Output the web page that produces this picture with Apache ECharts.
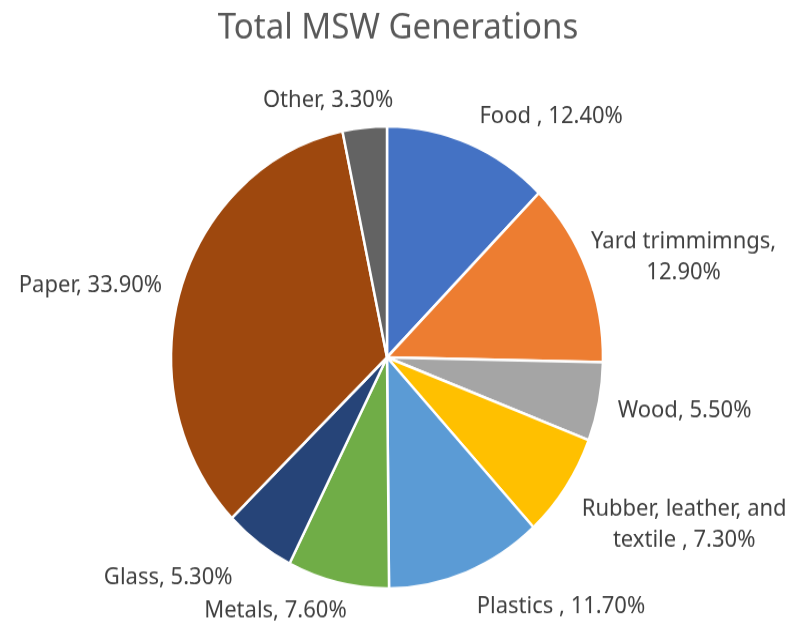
<!DOCTYPE html>
<html>
<head>
<meta charset="utf-8">
<script src="https://cdn.jsdelivr.net/npm/echarts@6/dist/echarts.min.js"></script>
<style>
  html, body { margin: 0; padding: 0; background: #fff; }
  body { width: 796px; height: 628px; overflow: hidden; }
  /* the source picture is stretched a little taller than wide */
  #chart { width: 796px; height: 587px; transform: scaleY(1.07); transform-origin: 0 0; }
</style>
</head>
<body>
<div id="chart"></div>
<script>
  // MSW share by material, clockwise from 12 o'clock
  const categories = ["Food ", "Yard trimmimngs", "Wood", "Rubber, leather, and textile ",
                      "Plastics ", "Metals", "Glass", "Paper", "Other"];
  const shares = [12.4, 12.9, 5.5, 7.3, 11.7, 7.6, 5.3, 33.9, 3.3];
  const colors = ["#4472C4", "#ED7D31", "#A5A5A5", "#FFC000", "#5B9BD5",
                  "#70AD47", "#264478", "#9E480E", "#636363"];

  // labels that Excel wraps onto two lines (centred)
  const wrapped = {
    "Yard trimmimngs": ["Yard trimmimngs,", "12.90%"],
    "Rubber, leather, and textile ": ["Rubber, leather, and", "textile , 7.30%"]
  };

  // small nudges so labels sit where Excel's best-fit put them
  const nudge = {
    "Food ": [0, -13],
    "Yard trimmimngs": [-12, -7],
    "Wood": [0, 6],
    "Rubber, leather, and textile ": [0, 27],
    "Plastics ": [0, 19],
    "Metals": [17, 13],
    "Glass": [-13, 21],
    "Other": [35, -12]
  };

  const chart = echarts.init(document.getElementById("chart"));

  chart.setOption({
    title: {
      text: "Total MSW Generations",
      left: "center",
      top: 5,
      textStyle: { fontFamily: "Noto Sans", fontSize: 33, fontWeight: "normal", color: "#595959" }
    },
    color: colors,
    series: [{
      type: "pie",
      center: [387, 334],
      radius: 216,
      startAngle: 90,
      clockwise: true,
      animation: false,
      itemStyle: { borderColor: "#fff", borderWidth: 2.5 },
      label: {
        show: true,
        position: "outside",
        fontFamily: "Noto Sans",
        fontSize: 22,
        color: "#404040",
        lineHeight: 29,
        formatter: p => {
          const w = wrapped[p.name];
          if (w) return w.map(s => "{c|" + s + "}").join("\n");
          return p.name + ", " + p.value.toFixed(2) + "%";
        },
        rich: {
          c: { fontFamily: "Noto Sans", fontSize: 22, color: "#404040", lineHeight: 29, width: 0, align: "center" }
        }
      },
      labelLine: { show: false, length: 14, length2: 0 },
      labelLayout: p => {
        const n = nudge[categories[p.dataIndex]] || [0, 0];
        return { dx: n[0], dy: n[1] };
      },
      data: categories.map((c, i) => ({ name: c, value: shares[i] }))
    }]
  });
</script>
</body>
</html>
